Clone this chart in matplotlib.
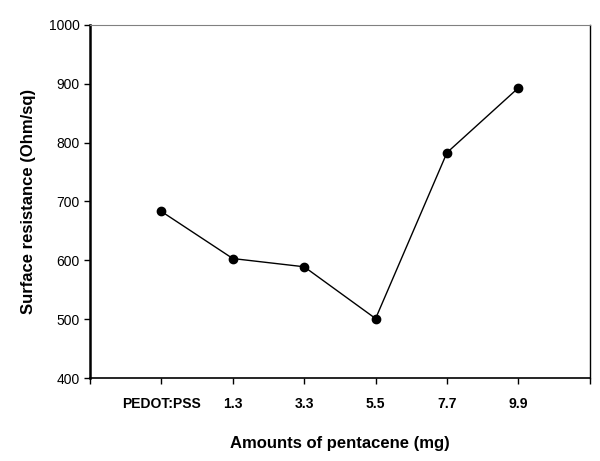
import numpy as np
import matplotlib.pyplot as plt

plt.rcParams['font.family'] = ['Liberation Sans', 'DejaVu Sans']

labels = ['PEDOT:PSS', '1.3', '3.3', '5.5', '7.7', '9.9']
resistance = [683, 603, 589, 501, 783, 893]

fig = plt.figure(figsize=(6, 4.61), dpi=100)
ax = fig.add_axes([0.15, 0.18, 0.833, 0.766])

x = np.arange(1, len(labels) + 1)
ax.plot(x, resistance, color='black', lw=1, marker='o', ms=6)

ax.set_xlim(0, 7)
ax.set_ylim(400, 1000)
ax.set_xticks(np.arange(0, 8))
ax.set_xticklabels([''] + labels + [''], fontsize=10, fontweight='bold')
ax.set_yticks(np.arange(400, 1001, 100))
ax.tick_params(axis='y', labelsize=10, direction='out', length=4, width=1)
ax.tick_params(axis='x', direction='out', length=4, width=1, pad=10)

ax.spines['left'].set_linewidth(1.8)
ax.spines['bottom'].set_linewidth(1.2)
ax.spines['top'].set_color('gray')
ax.spines['right'].set_linewidth(1)

ax.set_ylabel('Surface resistance (Ohm/sq)', fontsize=12, fontweight='bold', labelpad=9)
ax.set_xlabel('Amounts of pentacene (mg)', fontsize=12, fontweight='bold', labelpad=18)

fig.savefig('out.png', dpi=100)
